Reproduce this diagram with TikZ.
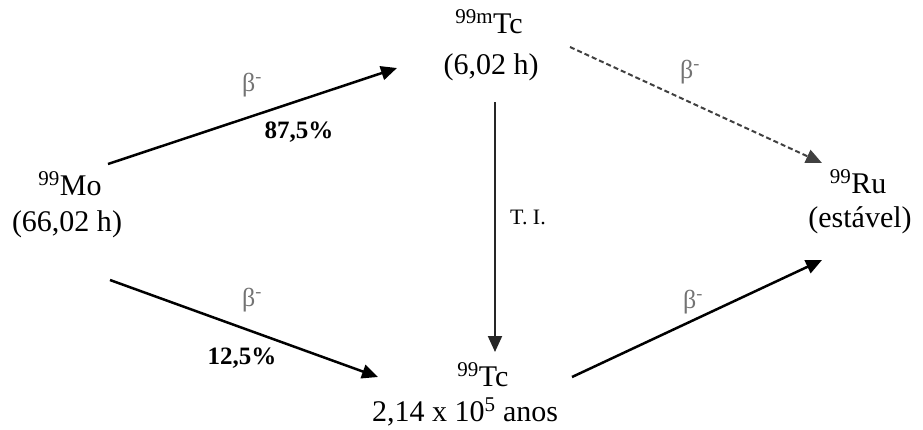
\documentclass[tikz,border=0pt]{standalone}
\usepackage{fontspec}
\setmainfont{Liberation Serif}
\usetikzlibrary{arrows.meta}
\tikzset{
  iso/.style={anchor=base, inner sep=0pt, font=\fontsize{30}{36}\selectfont},
  decay/.style={line width=2.5pt, -{Triangle[length=16pt,width=14pt]}},
  tag/.style={inner sep=0pt, text=black!55, font=\fontsize{26}{30}\selectfont},
  pct/.style={inner sep=0pt, font=\fontsize{25}{30}\selectfont\bfseries},
}
\begin{document}
\begin{tikzpicture}[x=1pt,y=-1pt]
\useasboundingbox (0,0) rectangle (923,429);
% nuclides and half-lives
\node[iso] (mo) at (70,195) {\textsuperscript{99}Mo};
\node[iso] (mo-life) at (67,231) {(66,02 h)};
\node[iso] (tcm) at (489,33) {\textsuperscript{99m}Tc};
\node[iso] (tcm-life) at (491,74) {(6,02 h)};
\node[iso] (ru) at (858,193) {\textsuperscript{99}Ru};
\node[iso] (ru-life) at (860,227) {(estável)};
\node[iso] (tc) at (483,386) {\textsuperscript{99}Tc};
\node[iso] (tc-life) at (465,421) {2,14 x 10\textsuperscript{5} anos};
% arrow ends
\coordinate (mo-up) at (108,164);
\coordinate (tcm-in) at (397,68);
\coordinate (mo-down) at (110,280);
\coordinate (tc-in) at (378,377);
\coordinate (tcm-out) at (570,47);
\coordinate (ru-top) at (822,163);
\coordinate (tcm-low) at (495,102);
\coordinate (tc-top) at (495,352);
\coordinate (tc-out) at (572,377);
\coordinate (ru-bot) at (822,260);
% decays
\draw[decay] (mo-up) -- (tcm-in);
\draw[decay] (mo-down) -- (tc-in);
\draw[decay] (tc-out) -- (ru-bot);
\draw[decay, line width=2pt, black!85] (tcm-low) -- (tc-top);
\draw[decay, line width=2pt, black!75, dash pattern=on 5pt off 3pt] (tcm-out) -- (ru-top);
% labels
\node[tag] (b1) at (252,85) {β\textsuperscript{-}};
\node[pct] (p1) at (299,132) {87,5\%};
\node[tag] (b2) at (252,300) {β\textsuperscript{-}};
\node[pct] (p2) at (242,358) {12,5\%};
\node[tag] (b3) at (690,72) {β\textsuperscript{-}};
\node[tag] (b4) at (693,302) {β\textsuperscript{-}};
\node[tag, anchor=base west, text=black, font=\fontsize{22}{26}\selectfont] (ti) at (510,224) {T. I.};
\end{tikzpicture}
\end{document}
